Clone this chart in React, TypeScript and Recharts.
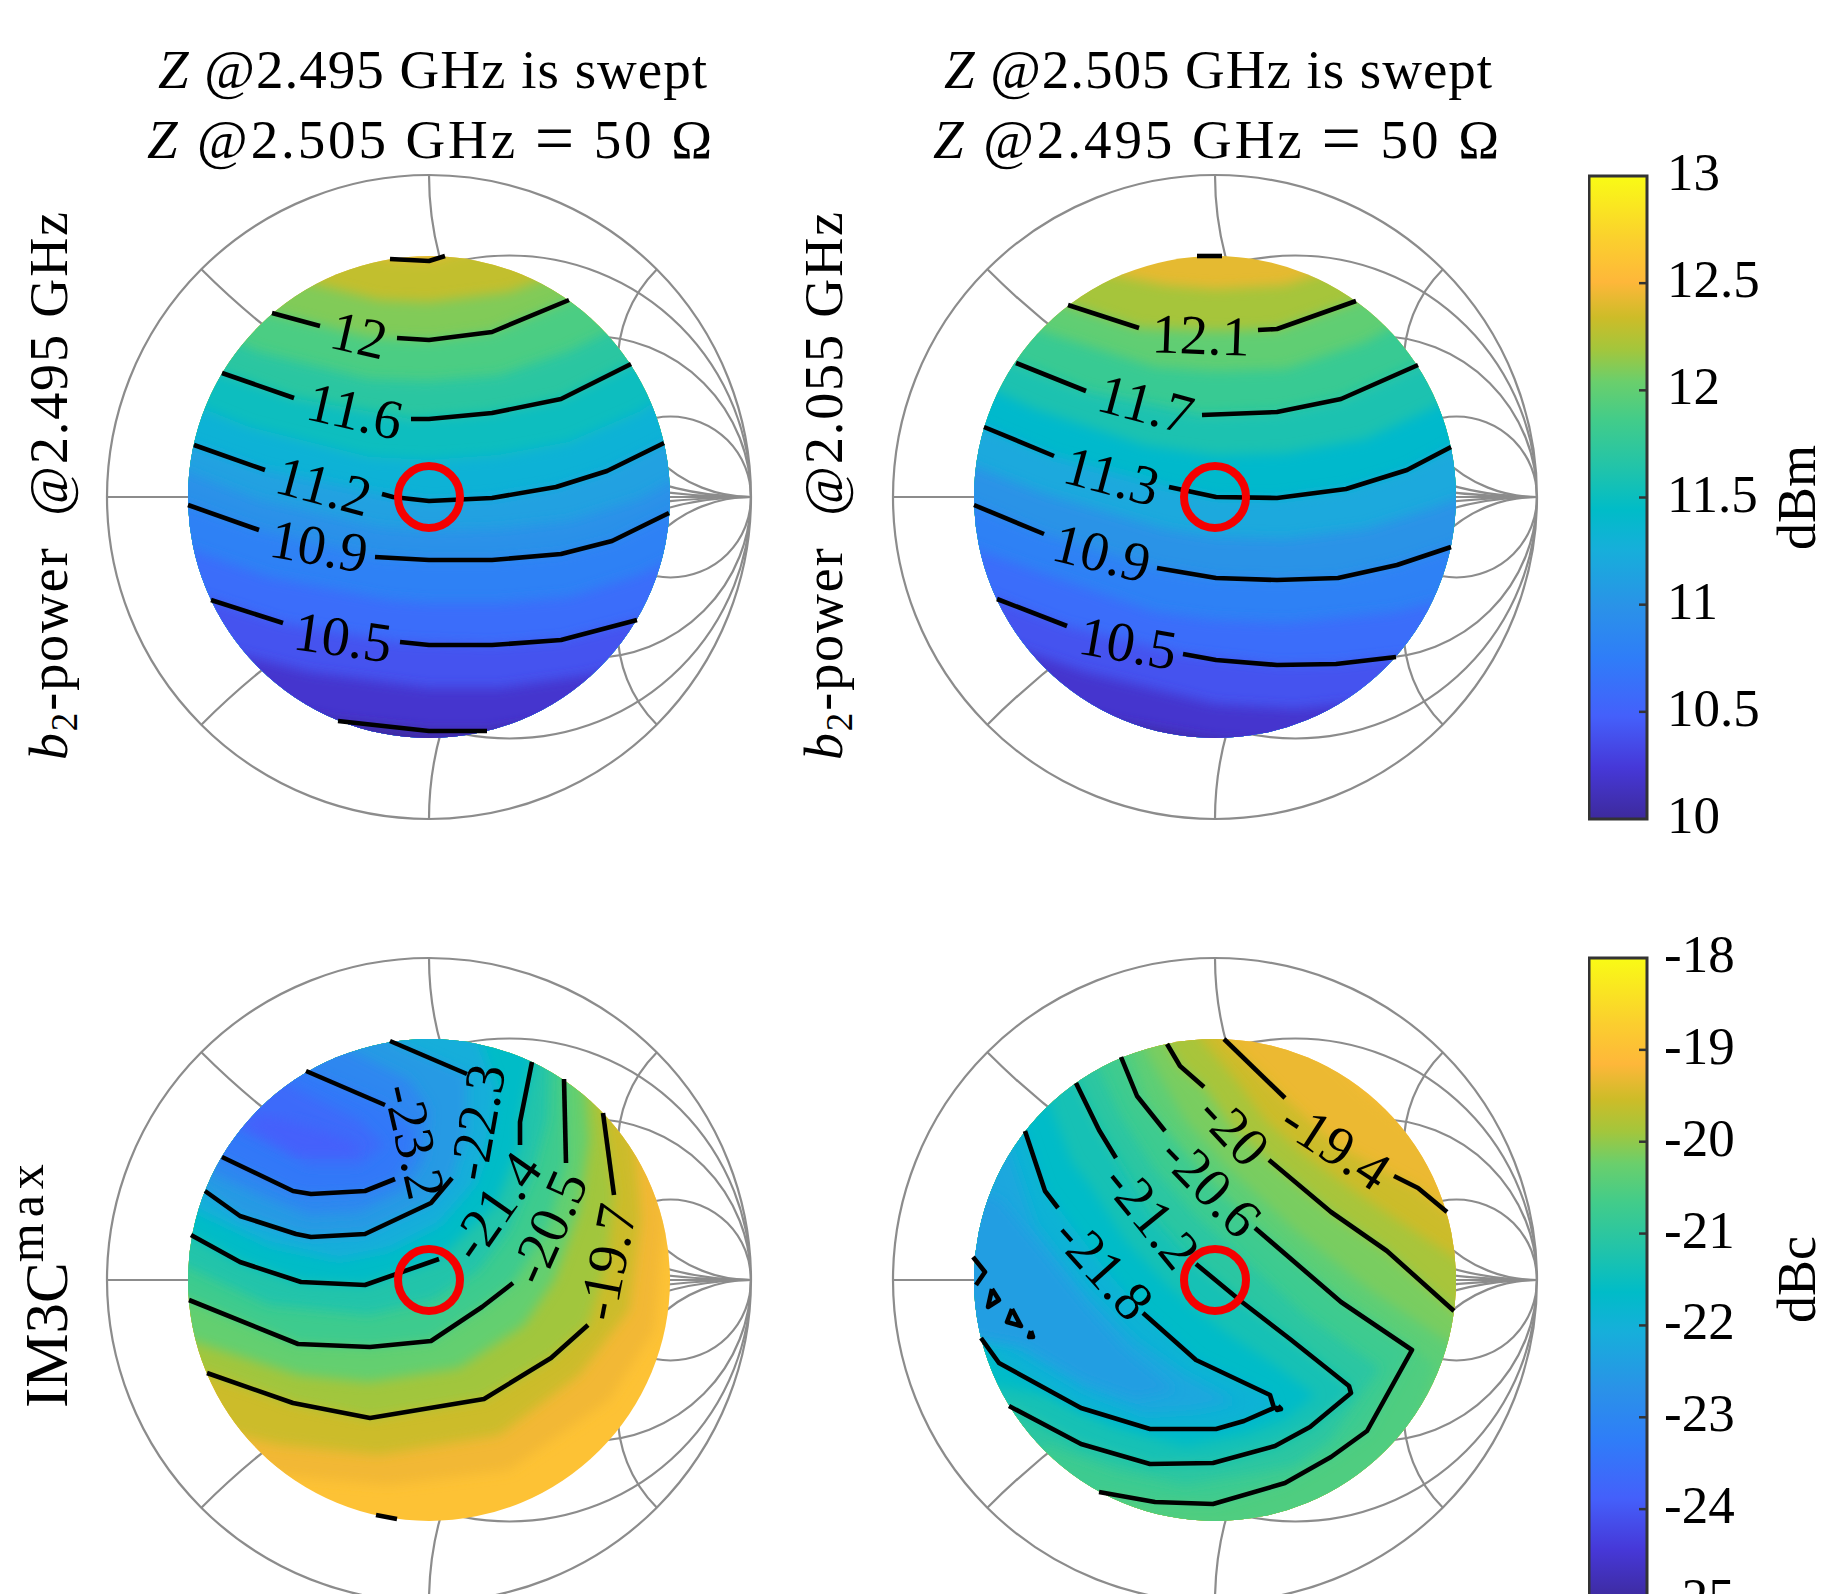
import { ScatterChart, Scatter, XAxis, YAxis, ReferenceDot, ReferenceLine, BarChart, Bar } from "recharts";

type Pt = [number, number];
type Band = { level: number; pts: Pt[] };
type Label = { x: number; y: number; text: string; angle: number };

const FONT = "'Liberation Serif', serif";
const GRID = "#8c8c8c";
const R = 322; // outer Smith circle, in chart units (1 unit = 1px)
const DISC = 241;

// colormap, t = 0 (bottom) .. 1 (top)
const cmapPos = [0, 0.08, 0.16, 0.25, 0.33, 0.42, 0.48, 0.55, 0.62, 0.68, 0.73, 0.78, 0.835, 0.9, 1];
const cmapHex = ["#3d2a9c", "#4638d8", "#4460fb", "#2f7df8", "#2a92e8", "#16afda", "#00bcc8", "#23c4a8", "#42cc8a", "#6acf6c", "#a3c63c", "#cdbc28", "#feb73a", "#fbcf2e", "#f9fb15"];

function colorAt(t: number) {
  const v = Math.min(1, Math.max(0, t));
  let i = 0;
  while (i < cmapPos.length - 2 && v > cmapPos[i + 1]) i++;
  const k = (v - cmapPos[i]) / (cmapPos[i + 1] - cmapPos[i]);
  const ch = (h: string, o: number) => parseInt(h.slice(o, o + 2), 16);
  const mix = (o: number) => Math.round(ch(cmapHex[i], o) + (ch(cmapHex[i + 1], o) - ch(cmapHex[i], o)) * k);
  return `rgb(${mix(1)},${mix(3)},${mix(5)})`;
}

// Smith grid, in units of the outer radius
const resistanceCircles = [[0.25, 0.75], [0.5, 0.5], [0.75, 0.25]];
const reactanceCircles = [[1, 2.414], [1, 1], [1, 0.414], [1, -0.414], [1, -1], [1, -2.414]];

// top left panel
const p1Bands: Band[] = [
  { level: 12.4, pts: [[-200, 290], [-39, 238], [0, 236], [16, 241], [200, 300]] },
  { level: 12.2, pts: [[-260, 262], [-150, 222], [-50, 197], [0, 195], [80, 205], [160, 235], [260, 295]] },
  { level: 12, pts: [[-260, 225], [-157, 184], [-60, 160], [0, 157], [63, 165], [140, 197], [260, 260]] },
  { level: 11.8, pts: [[-260, 185], [-170, 145], [-60, 118], [0, 116], [70, 122], [140, 146], [210, 180], [260, 215]] },
  { level: 11.6, pts: [[-260, 145], [-207, 124], [-135, 99], [-18, 78], [63, 84], [132, 98], [202, 133], [260, 170]] },
  { level: 11.4, pts: [[-260, 102], [-180, 70], [-60, 40], [0, 37], [70, 42], [140, 55], [210, 85], [260, 118]] },
  { level: 11.2, pts: [[-260, 62], [-235, 52], [-164, 27], [-47, 3], [0, -4], [63, -1], [127, 10], [178, 26], [235, 54], [260, 70]] },
  { level: 11.05, pts: [[-260, 32], [-170, -3], [-50, -30], [0, -34], [70, -32], [140, -24], [210, -2], [260, 25]] },
  { level: 10.9, pts: [[-260, 0], [-241, -8], [-170, -33], [-54, -60], [0, -63], [63, -63], [132, -57], [183, -44], [240, -16], [260, -5]] },
  { level: 10.7, pts: [[-260, -45], [-160, -80], [-40, -103], [0, -106], [70, -106], [140, -100], [210, -78], [260, -55]] },
  { level: 10.5, pts: [[-260, -90], [-218, -103], [-146, -126], [-29, -145], [63, -148], [132, -143], [208, -123], [260, -105]] },
  { level: 10.3, pts: [[-260, -140], [-120, -175], [0, -191], [70, -191], [160, -178], [260, -150]] },
  { level: 10.1, pts: [[-260, -190], [-91, -224], [0, -234], [58, -234], [260, -200]] },
];
const p1Contours: Pt[][] = [
  [[-39, 238], [0, 236], [16, 241]],
  [[-157, 184], [-109, 171]],
  [[-32, 159], [0, 157], [63, 165], [140, 197]],
  [[-207, 124], [-135, 99]],
  [[-18, 78], [0, 78], [63, 84], [132, 98], [202, 133]],
  [[-235, 52], [-164, 27]],
  [[-47, 3], [-36, 0], [0, -4], [63, -1], [127, 10], [178, 26], [235, 54]],
  [[-241, -8], [-170, -33]],
  [[-54, -60], [0, -63], [63, -63], [132, -57], [183, -44], [240, -16]],
  [[-218, -103], [-146, -126]],
  [[-29, -145], [0, -148], [63, -148], [132, -143], [208, -123]],
  [[-91, -224], [0, -234], [58, -234]],
];
const p1Labels: Label[] = [
  { x: -70, y: 162, text: "12", angle: 13 },
  { x: -74, y: 86, text: "11.6", angle: 13 },
  { x: -105, y: 11, text: "11.2", angle: 15 },
  { x: -110, y: -49, text: "10.9", angle: 10 },
  { x: -86, y: -140, text: "10.5", angle: 8 },
];

// top right panel
const p2Bands: Band[] = [
  { level: 12.3, pts: [[-260, 270], [-150, 232], [-50, 212], [0, 208], [70, 212], [150, 238], [260, 300]] },
  { level: 12.1, pts: [[-260, 240], [-147, 192], [-76, 169], [0, 166], [62, 168], [141, 196], [260, 260]] },
  { level: 11.9, pts: [[-260, 205], [-170, 165], [-60, 130], [0, 126], [70, 128], [150, 155], [260, 215]] },
  { level: 11.7, pts: [[-260, 165], [-199, 134], [-129, 106], [-13, 82], [62, 85], [126, 98], [203, 132], [260, 170]] },
  { level: 11.5, pts: [[-260, 125], [-180, 88], [-70, 52], [0, 42], [70, 44], [150, 58], [220, 90], [260, 118]] },
  { level: 11.3, pts: [[-260, 85], [-231, 70], [-161, 41], [-46, 10], [1, 0], [62, -1], [131, 8], [192, 27], [236, 50], [260, 65]] },
  { level: 11.1, pts: [[-260, 38], [-170, 3], [-50, -32], [0, -40], [70, -42], [150, -32], [220, -10], [260, 5]] },
  { level: 10.9, pts: [[-260, 0], [-241, -8], [-171, -37], [-58, -71], [1, -81], [62, -83], [123, -81], [182, -68], [236, -50], [260, -40]] },
  { level: 10.7, pts: [[-260, -45], [-190, -70], [-60, -115], [0, -123], [70, -126], [180, -115], [260, -95]] },
  { level: 10.5, pts: [[-260, -88], [-218, -102], [-148, -129], [-32, -157], [62, -168], [121, -167], [181, -160], [260, -150]] },
  { level: 10.3, pts: [[-260, -130], [-130, -175], [0, -207], [80, -212], [200, -200], [260, -190]] },
  { level: 10.1, pts: [[-260, -190], [-100, -225], [0, -243], [100, -250], [260, -220]] },
];
const p2Contours: Pt[][] = [
  [[-18, 241], [7, 241]],
  [[-147, 192], [-76, 169]],
  [[43, 167], [62, 168], [141, 196]],
  [[-199, 134], [-129, 106]],
  [[-13, 82], [62, 85], [126, 98], [203, 132]],
  [[-231, 70], [-161, 41]],
  [[-46, 10], [1, 0], [62, -1], [131, 8], [192, 27], [236, 50]],
  [[-241, -8], [-171, -37]],
  [[-58, -71], [1, -81], [62, -83], [123, -81], [182, -68], [236, -50]],
  [[-218, -102], [-148, -129]],
  [[-32, -157], [1, -163], [62, -168], [121, -167], [181, -160]],
];
const p2Labels: Label[] = [
  { x: -14, y: 162, text: "12.1", angle: 2 },
  { x: -69, y: 93, text: "11.7", angle: 15 },
  { x: -103, y: 21, text: "11.3", angle: 15 },
  { x: -113, y: -56, text: "10.9", angle: 14 },
  { x: -87, y: -146, text: "10.5", angle: 10 },
];

// bottom left panel
const p3Bands: Band[] = [
  { level: -19.1, pts: [[-300, -180], [-150, -195], [-40, -205], [80, -190], [180, -120], [225, -50], [235, 60], [225, 150], [190, 300], [-322, 322]] },
  { level: -19.4, pts: [[-300, -130], [-150, -165], [-50, -175], [70, -155], [150, -95], [200, -30], [212, 60], [205, 150], [170, 300], [-322, 322]] },
  { level: -19.7, pts: [[-300, -70], [-222, -93], [-136, -123], [-59, -138], [55, -119], [122, -78], [159, -45], [178, 18], [185, 85], [174, 167], [130, 300], [-322, 322]] },
  { level: -20.1, pts: [[-300, -40], [-240, -60], [-130, -95], [-60, -102], [30, -88], [95, -45], [125, 0], [150, 70], [160, 140], [155, 210], [130, 300], [-322, 322]] },
  { level: -20.5, pts: [[-300, 5], [-240, -20], [-131, -64], [-59, -67], [2, -61], [53, -27], [84, -3], [119, 53], [137, 117], [135, 201], [125, 300], [-322, 322]] },
  { level: -20.95, pts: [[-300, 30], [-240, 12], [-160, -25], [-60, -35], [5, -20], [50, 10], [80, 50], [105, 110], [118, 160], [120, 210], [110, 300], [-322, 322]] },
  { level: -21.4, pts: [[-300, 80], [-238, 45], [-189, 18], [-128, -2], [-64, -5], [10, 21], [40, 50], [66, 74], [91, 135], [91, 158], [103, 218], [95, 300], [-322, 322]] },
  { level: -21.85, pts: [[-300, 110], [-230, 68], [-160, 35], [-90, 20], [-40, 30], [10, 55], [45, 95], [60, 140], [68, 190], [50, 240], [30, 300], [-322, 322]] },
  { level: -22.3, pts: [[-300, 150], [-224, 89], [-189, 64], [-133, 46], [-118, 43], [-64, 46], [2, 77], [23, 102], [38, 150], [38, 206], [-39, 239], [-60, 300], [-322, 322]] },
  { level: -22.75, pts: [[-300, 190], [-215, 105], [-170, 85], [-120, 65], [-70, 68], [-25, 90], [-5, 120], [0, 170], [-20, 200], [-90, 235], [-120, 300], [-322, 322]] },
  { level: -23.2, pts: [[-300, 200], [-207, 123], [-136, 89], [-118, 86], [-64, 89], [-34, 101], [-18, 125], [-14, 150], [-44, 175], [-123, 209], [-160, 300], [-322, 322]] },
  { level: -23.5, pts: [[-300, 210], [-190, 150], [-120, 115], [-70, 115], [-45, 135], [-70, 160], [-130, 190], [-170, 215], [-200, 300], [-322, 322]] },
  { level: -23.8, pts: [[-190, 158], [-130, 125], [-75, 125], [-70, 135], [-110, 150], [-160, 165]] },
];
const p3Contours: Pt[][] = [
  [[-123, 209], [-44, 175]],
  [[-207, 123], [-136, 89], [-118, 86], [-64, 89], [-34, 101]],
  [[-39, 239], [38, 206]],
  [[-224, 89], [-189, 64], [-133, 46], [-118, 43], [-64, 46], [2, 77], [23, 102]],
  [[103, 218], [91, 158], [91, 135]],
  [[-238, 45], [-189, 18], [-128, -2], [-64, -5], [10, 21]],
  [[135, 201], [137, 117]],
  [[-240, -20], [-131, -64], [-59, -67], [2, -61], [53, -27], [84, -3]],
  [[174, 167], [185, 85]],
  [[-222, -93], [-136, -123], [-59, -138], [55, -119], [122, -78], [159, -45]],
  [[-53, -235], [-32, -239]],
];
const p3Labels: Label[] = [
  { x: -14, y: 139, text: "-23.2", angle: 77 },
  { x: 48, y: 158, text: "-22.3", angle: -80 },
  { x: 66, y: 74, text: "-21.4", angle: -55 },
  { x: 119, y: 53, text: "-20.5", angle: -66 },
  { x: 178, y: 18, text: "-19.7", angle: -79 },
];

// bottom right panel
const p4Bands: Band[] = [
  { level: -19.2, pts: [[70, 322], [100, 240], [150, 190], [215, 140], [260, 110], [322, 60], [322, -322]] },
  { level: -19.4, pts: [[-30, 300], [9, 241], [70, 182], [121, 135], [179, 104], [203, 92], [232, 68], [300, 20], [322, 0], [322, -322]] },
  { level: -19.7, pts: [[-30, 322], [-15, 242], [25, 195], [50, 160], [90, 125], [145, 85], [205, 45], [322, -30], [322, -322]] },
  { level: -20, pts: [[-70, 322], [-48, 236], [-35, 214], [-11, 193], [19, 150], [54, 120], [116, 68], [172, 29], [239, -31], [322, -100], [322, -322]] },
  { level: -20.3, pts: [[-95, 322], [-70, 230], [-30, 160], [10, 115], [80, 50], [155, -10], [230, -60], [322, -120], [322, -322]] },
  { level: -20.45, pts: [[-110, 322], [-85, 228], [-65, 170], [-25, 120], [25, 70], [90, 10], [165, -45], [220, -85], [200, -150], [130, -220], [40, -250], [-60, -250], [-140, -230]] },
  { level: -20.6, pts: [[-115, 322], [-94, 223], [-78, 184], [-50, 149], [-4, 94], [40, 52], [126, -22], [197, -70], [152, -151], [116, -177], [70, -203], [-2, -224], [-60, -222], [-116, -212]] },
  { level: -20.9, pts: [[-135, 322], [-118, 215], [-95, 165], [-60, 110], [-20, 65], [30, 20], [90, -35], [165, -88], [115, -160], [80, -185], [30, -195], [-30, -205], [-100, -190], [-170, -165]] },
  { level: -21.2, pts: [[-160, 322], [-139, 197], [-116, 150], [-99, 122], [-63, 64], [-19, 16], [27, -22], [75, -59], [134, -106], [136, -113], [95, -147], [60, -166], [-2, -183], [-65, -184], [-134, -164], [-206, -126], [-322, -200]] },
  { level: -21.5, pts: [[-165, 322], [-165, 175], [-143, 118], [-125, 95], [-90, 40], [-45, -8], [10, -52], [60, -85], [100, -115], [70, -140], [30, -155], [-30, -167], [-100, -148], [-170, -115], [-225, -105], [-322, -150]] },
  { level: -21.8, pts: [[-215, 322], [-190, 149], [-170, 89], [-157, 72], [-111, 12], [-72, -33], [-19, -80], [55, -115], [59, -128], [29, -141], [1, -149], [-65, -149], [-134, -128], [-216, -83], [-234, -58], [-322, -70]] },
  { level: -22.1, pts: [[-230, 322], [-205, 130], [-180, 55], [-130, -10], [-80, -60], [-30, -95], [20, -122], [-20, -130], [-70, -133], [-130, -110], [-205, -65], [-322, -50]] },
  { level: -22.35, pts: [[-322, 120], [-215, 80], [-170, 25], [-130, -25], [-90, -70], [-40, -110], [-80, -118], [-130, -100], [-190, -65], [-322, -40]] },
];
const p4Contours: Pt[][] = [
  [[9, 241], [70, 182]],
  [[179, 104], [203, 92], [232, 68]],
  [[-48, 236], [-35, 214], [-11, 193]],
  [[54, 120], [116, 68], [172, 29], [239, -31]],
  [[-94, 223], [-78, 184], [-50, 149]],
  [[40, 52], [126, -22], [197, -70], [152, -151], [116, -177], [70, -203], [-2, -224], [-60, -222], [-116, -212]],
  [[-139, 197], [-116, 150], [-99, 122]],
  [[-19, 16], [27, -22], [75, -59], [134, -106], [136, -113], [95, -147], [60, -166], [-2, -183], [-65, -184], [-134, -164], [-206, -126]],
  [[-190, 149], [-170, 89], [-157, 72]],
  [[-72, -33], [-19, -80], [55, -115], [59, -128], [29, -141], [1, -149], [-65, -149], [-134, -128], [-216, -83], [-234, -58]],
  [[-242, 23], [-230, 8], [-239, -5]],
  [[-223, -9], [-227, -27], [-216, -20], [-223, -9]],
  [[-203, -29], [-208, -42], [-194, -46], [-203, -29]],
  [[-184, -51], [-186, -57], [-182, -57], [-184, -51]],
  [[63, -126], [66, -129], [62, -130], [63, -126]],
];
const p4Labels: Label[] = [
  { x: 121, y: 135, text: "-19.4", angle: 33 },
  { x: 19, y: 150, text: "-20", angle: 47 },
  { x: -4, y: 94, text: "-20.6", angle: 46 },
  { x: -63, y: 64, text: "-21.2", angle: 51 },
  { x: -111, y: 12, text: "-21.8", angle: 48 },
];

const belowClosure: Pt[] = [[322, -322], [-322, -322]];
const leftClosure: Pt[] = [[-322, -322], [-322, 322]];

const ticksDbm = [10, 10.5, 11, 11.5, 12, 12.5, 13];
const ticksDbc = [-25, -24, -23, -22, -21, -20, -19, -18];

const toXY = (pts: Pt[]) => pts.map(([x, y]) => ({ x, y }));
const noPoint = () => <g />;

function SmithPanel({ id, left, top, min, max, base, bands, closure, contours, labels }: {
  id: string; left: number; top: number; min: number; max: number; base: number;
  bands: Band[]; closure: Pt[]; contours: Pt[][]; labels: Label[];
}) {
  const size = 2 * R + 16;
  const c = size / 2;
  const tOf = (v: number) => (v - min) / (max - min);
  const filled = (lvl: number) => ({
    fill: colorAt(tOf(lvl)),
    stroke: "none",
    clipPath: `url(#disc-${id})`,
    filter: `url(#soft-${id})`,
  });
  return (
    <div style={{ position: "absolute", left: left - c, top: top - c }}>
      <ScatterChart width={size} height={size} margin={{ top: 8, right: 8, bottom: 8, left: 8 }}>
        <defs>
          <clipPath id={`disc-${id}`}>
            <circle cx={c} cy={c} r={DISC} />
          </clipPath>
          <clipPath id={`unit-${id}`}>
            <circle cx={c} cy={c} r={R} />
          </clipPath>
          <filter id={`soft-${id}`} x="-10%" y="-10%" width="120%" height="120%">
            <feGaussianBlur stdDeviation="6" />
          </filter>
        </defs>
        <XAxis type="number" dataKey="x" domain={[-R, R]} hide />
        <YAxis type="number" dataKey="y" domain={[-R, R]} hide width={0} />
        <ReferenceLine y={0} stroke={GRID} strokeWidth={2.2} />
        <ReferenceDot x={0} y={0} r={R} fill="none" stroke={GRID} strokeWidth={2.2} />
        {resistanceCircles.map(([cx, r], i) => (
          <ReferenceDot key={`r${i}`} x={cx * R} y={0} r={r * R} fill="none" stroke={GRID} strokeWidth={2.2} clipPath={`url(#unit-${id})`} />
        ))}
        {reactanceCircles.map(([cx, r], i) => (
          <ReferenceDot key={`x${i}`} x={cx * R} y={r * R} r={Math.abs(r) * R} ifOverflow="visible" fill="none" stroke={GRID} strokeWidth={2.2} clipPath={`url(#unit-${id})`} />
        ))}
        <Scatter
          data={toXY([[-R, -R], [R, -R], [R, R], [-R, R]])}
          isAnimationActive={false}
          shape={noPoint}
          line={{ fill: colorAt(tOf(base)), stroke: "none", clipPath: `url(#disc-${id})` }}
        />
        {bands.map((b, i) => {
          const next = bands[i + 1] ? bands[i + 1].level : b.level - 0.15;
          const isBlob = b.level === -23.8;
          return (
            <Scatter
              key={`band${i}`}
              data={toXY(isBlob ? b.pts : [...b.pts, ...closure])}
              isAnimationActive={false}
              shape={noPoint}
              line={filled((b.level + next) / 2)}
            />
          );
        })}
        {contours.map((pts, i) => (
          <Scatter
            key={`c${i}`}
            data={toXY(pts)}
            isAnimationActive={false}
            shape={noPoint}
            line={{ stroke: "#000", strokeWidth: 4.6, fill: "none", strokeLinejoin: "round" }}
          />
        ))}
        <Scatter
          data={[{ x: 0, y: 0 }]}
          isAnimationActive={false}
          shape={(p: any) => <circle cx={p.cx} cy={p.cy} r={31} fill="none" stroke="#f50000" strokeWidth={8} />}
        />
        <Scatter
          data={labels}
          isAnimationActive={false}
          shape={(p: any) => (
            <text
              x={p.cx}
              y={p.cy}
              fontFamily={FONT}
              fontSize={56}
              fill="#000"
              textAnchor="middle"
              dominantBaseline="central"
              transform={`rotate(${p.payload.angle} ${p.cx} ${p.cy})`}
            >
              {p.payload.text}
            </text>
          )}
        />
      </ScatterChart>
    </div>
  );
}

function ColorBar({ id, top, height, min, max, ticks, unit, textX }: {
  id: string; top: number; height: number; min: number; max: number; ticks: number[]; unit: string; textX: number;
}) {
  const pad = 46;
  return (
    <div style={{ position: "absolute", left: 1588, top: top - pad }}>
      <BarChart
        width={238}
        height={height + pad * 2}
        data={[{ name: unit, range: [min, max] }]}
        margin={{ top: pad, right: 0, bottom: pad, left: 1 }}
        barCategoryGap={0}
      >
        <defs>
          <linearGradient id={`cmap-${id}`} x1="0" y1="1" x2="0" y2="0">
            {cmapPos.map((p, i) => (
              <stop key={i} offset={p} stopColor={cmapHex[i]} />
            ))}
          </linearGradient>
        </defs>
        <XAxis dataKey="name" hide />
        <YAxis
          orientation="right"
          width={179}
          domain={[min, max]}
          ticks={ticks}
          interval={0}
          axisLine={false}
          tickLine={false}
          tickSize={0}
          tickMargin={0}
          tick={(p: any) => {
            const v = p.payload.value;
            return (
              <g>
                {v !== min && v !== max && <line x1={p.x - 8} x2={p.x} y1={p.y} y2={p.y} stroke="#333" strokeWidth={2.5} />}
                <text x={p.x + textX} y={p.y + 14} fontFamily={FONT} fontSize={53} fill="#000">
                  {String(v)}
                </text>
              </g>
            );
          }}
        />
        <Bar dataKey="range" fill={`url(#cmap-${id})`} stroke="#333" strokeWidth={3} isAnimationActive={false} />
        <text
          transform={`translate(227 ${pad + height / 2}) rotate(-90)`}
          fontFamily={FONT}
          fontSize={54}
          textAnchor="middle"
          fill="#000"
        >
          {unit}
        </text>
      </BarChart>
    </div>
  );
}

function Title({ x, y, w, freq, swept }: { x: number; y: number; w: number; freq: string; swept: boolean }) {
  return (
    <text x={x} y={y} fontFamily={FONT} fontSize={55} fill="#000" textLength={w} lengthAdjust="spacing" xmlSpace="preserve">
      <tspan fontStyle="italic">Z</tspan>
      {swept ? (
        <tspan>{` @${freq} GHz is swept`}</tspan>
      ) : (
        <>
          <tspan>{` @${freq} GHz `}</tspan>
          <tspan fontSize={70} dy={4}>=</tspan>
          <tspan dy={-4}> 50 Ω</tspan>
        </>
      )}
    </text>
  );
}

function BLabel({ x, freq }: { x: number; freq: string }) {
  return (
    <text
      transform={`translate(${x} 760) rotate(-90)`}
      fontFamily={FONT}
      fontSize={54}
      fill="#000"
      textLength={548}
      lengthAdjust="spacing"
      xmlSpace="preserve"
    >
      <tspan fontStyle="italic">b</tspan>
      <tspan fontSize={37} dy={10}>2</tspan>
      <tspan dy={-10}>{`-power  @${freq} GHz`}</tspan>
    </text>
  );
}

export default function App() {
  return (
    <div style={{ position: "absolute", left: 0, top: 0, width: 1826, height: 1594, overflow: "hidden", background: "#fff" }}>
      <SmithPanel id="a" left={429} top={497} min={10} max={13} base={12.45} bands={p1Bands} closure={belowClosure} contours={p1Contours} labels={p1Labels} />
      <SmithPanel id="b" left={1215} top={497} min={10} max={13} base={12.42} bands={p2Bands} closure={belowClosure} contours={p2Contours} labels={p2Labels} />
      <SmithPanel id="c" left={429} top={1280} min={-25} max={-18} base={-18.95} bands={p3Bands} closure={[]} contours={p3Contours} labels={p3Labels} />
      <SmithPanel id="d" left={1215} top={1280} min={-25} max={-18} base={-19.05} bands={p4Bands} closure={leftClosure} contours={p4Contours} labels={p4Labels} />
      <ColorBar id="p" top={176} height={643} min={10} max={13} ticks={ticksDbm} unit="dBm" textX={20} />
      <ColorBar id="i" top={958} height={643} min={-25} max={-18} ticks={ticksDbc} unit="dBc" textX={17} />
      <svg width={1826} height={1594} style={{ position: "absolute", left: 0, top: 0, pointerEvents: "none" }}>
        <Title x={158} y={88} w={549} freq="2.495" swept />
        <Title x={147} y={158} w={565} freq="2.505" swept={false} />
        <Title x={944} y={88} w={548} freq="2.505" swept />
        <Title x={933} y={158} w={566} freq="2.495" swept={false} />
        <BLabel x={67} freq="2.495" />
        <BLabel x={842} freq="2.055" />
        <text transform="translate(67 1408) rotate(-90)" fontFamily={FONT} fontSize={61} fill="#000">
          IM3C
          <tspan fontSize={50} dy={-24} letterSpacing={6}>max</tspan>
        </text>
      </svg>
    </div>
  );
}
